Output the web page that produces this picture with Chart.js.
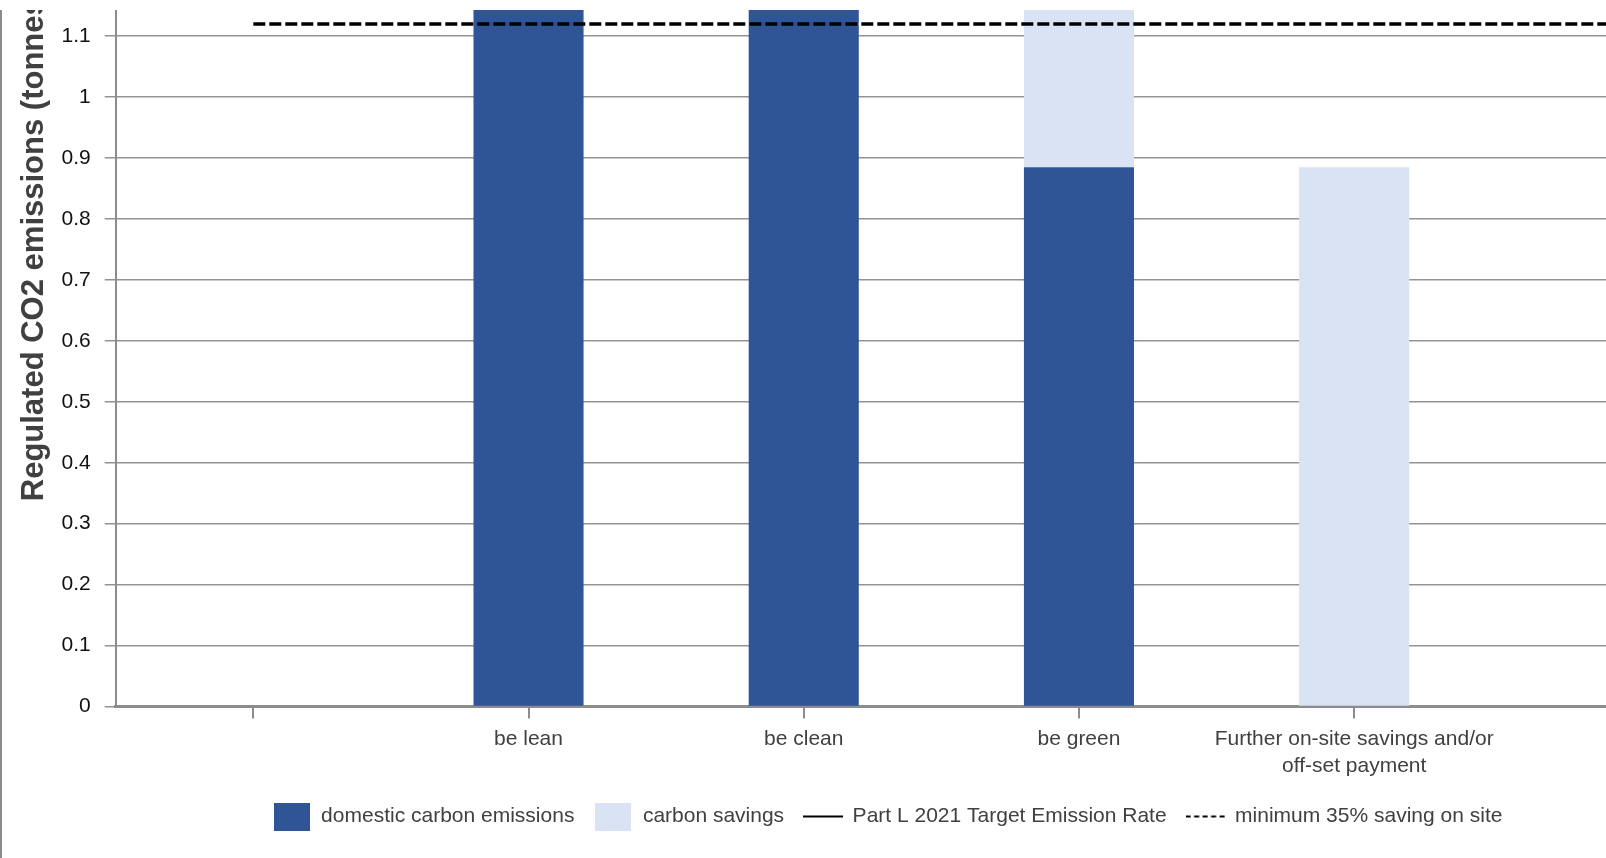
<!DOCTYPE html>
<html>
<head>
<meta charset="utf-8">
<script src="https://cdn.jsdelivr.net/npm/chart.js@4.4.0/dist/chart.umd.min.js"></script>
<style>
  html, body { margin: 0; padding: 0; background: #fff; overflow: hidden; }
  #frame {
    position: absolute; left: 0; top: 10px;
    width: 1606px; height: 848px;
    overflow: hidden;
    border-left: 2px solid #8c8c8c;
    box-sizing: border-box;
  }
  #holder { position: absolute; left: 0; top: 0; width: 1771px; height: 1248px; }
</style>
</head>
<body>
<div id="frame"><div id="holder"><canvas id="chart"></canvas></div></div>
<script>
// the source chart is a crop of a taller / wider chart, so part of it sits outside the window
const categories = ['', 'be lean', 'be clean', 'be green', ['Further on-site savings and/or', 'off-set payment'], ''];
const domesticEmissions = [null, 1.69, 1.69, 0.885, null, null];
const carbonSavings = [null, 0.03, 0.03, 0.805, 0.885, null];
const targetEmissionRate = [1.723, 1.723, 1.723, 1.723, 1.723, 1.723];
const minimumSaving = [1.12, 1.12, 1.12, 1.12, 1.12, 1.12];

const darkBlue = '#2f5597';
const lightBlue = '#dae3f3';
const axisGrey = '#8c8c8c';
const textGrey = '#404040';

Chart.defaults.font.family = "'Liberation Sans', Arial, sans-serif";

// legend symbols: filled boxes for the bars, short strokes for the lines
function legendIcon(kind, color, dash) {
    const c = document.createElement('canvas');
    if (kind === 'box') {
        c.width = 36; c.height = 28;
        const g = c.getContext('2d');
        g.fillStyle = color;
        g.fillRect(0, 0, 36, 28);
    } else {
        c.width = 40; c.height = 4;
        const g = c.getContext('2d');
        g.strokeStyle = color;
        g.lineWidth = 2;
        g.setLineDash(dash || []);
        g.beginPath();
        g.moveTo(0, 2);
        g.lineTo(40, 2);
        g.stroke();
    }
    return c;
}

const legendIcons = [
    legendIcon('box', darkBlue),
    legendIcon('box', lightBlue),
    legendIcon('line', '#000'),
    legendIcon('line', '#000', [5, 3.5])
];

const chart = new Chart(document.getElementById('chart'), {
    type: 'bar',
    data: {
        labels: categories,
        datasets: [
            {
                label: 'domestic carbon emissions',
                data: domesticEmissions,
                backgroundColor: darkBlue,
                stack: 'bars',
                order: 1
            },
            {
                label: 'carbon savings',
                data: carbonSavings,
                backgroundColor: lightBlue,
                stack: 'bars',
                order: 1
            },
            {
                type: 'line',
                label: 'Part L 2021 Target Emission Rate',
                data: targetEmissionRate,
                borderColor: '#000',
                borderWidth: 3,
                pointRadius: 0,
                stack: 'ter',
                order: -1
            },
            {
                type: 'line',
                label: 'minimum 35% saving on site',
                data: minimumSaving,
                borderColor: '#000',
                borderWidth: 3.5,
                borderDash: [12, 4],
                pointRadius: 0,
                stack: 'min35',
                order: -1
            }
        ]
    },
    options: {
        responsive: true,
        maintainAspectRatio: false,
        animation: false,
        layout: { padding: { top: 20, left: 6, right: 6, bottom: 0 } },
        datasets: {
            bar: { barPercentage: 0.8, categoryPercentage: 0.5, borderWidth: 0 }
        },
        plugins: {
            tooltip: { enabled: false },
            legend: {
                position: 'bottom',
                labels: {
                    usePointStyle: true,
                    pointStyleWidth: 38,
                    padding: 20,
                    color: textGrey,
                    font: { size: 21 },
                    sort: (a, b) => a.datasetIndex - b.datasetIndex,
                    generateLabels(chart) {
                        const items = Chart.defaults.plugins.legend.labels.generateLabels(chart);
                        items.forEach(item => { item.pointStyle = legendIcons[item.datasetIndex]; });
                        return items;
                    }
                }
            }
        },
        scales: {
            x: {
                stacked: true,
                grid: {
                    display: true,
                    drawOnChartArea: false,
                    offset: false,
                    color: axisGrey,
                    lineWidth: 2,
                    tickLength: 12
                },
                border: { color: axisGrey, width: 3 },
                ticks: {
                    color: textGrey,
                    padding: 7,
                    maxRotation: 0,
                    autoSkip: false,
                    font: { size: 21, lineHeight: 1.3 }
                },
                afterFit(scale) { scale.height = 79.5; }
            },
            y: {
                stacked: true,
                min: 0,
                max: 1.79,
                ticks: {
                    stepSize: 0.1,
                    color: '#111',
                    padding: 14,
                    font: { size: 21 },
                    callback: value => String(Number(value.toFixed(2)))
                },
                grid: {
                    color: '#939393',
                    lineWidth: 1.5,
                    tickLength: 11
                },
                border: { color: axisGrey, width: 2 },
                title: {
                    display: true,
                    text: 'Regulated CO2 emissions (tonnes per annum)',
                    color: textGrey,
                    padding: { top: 8, bottom: 0 },
                    font: { size: 31, weight: 'bold' }
                },
                afterFit(scale) { scale.width = 107.7; }
            }
        }
    }
});

// put the zero line where the cropped original has it
const zeroY = chart.scales.y.getPixelForValue(0);
document.getElementById('holder').style.top = (696 - zeroY) + 'px';
</script>
</body>
</html>
